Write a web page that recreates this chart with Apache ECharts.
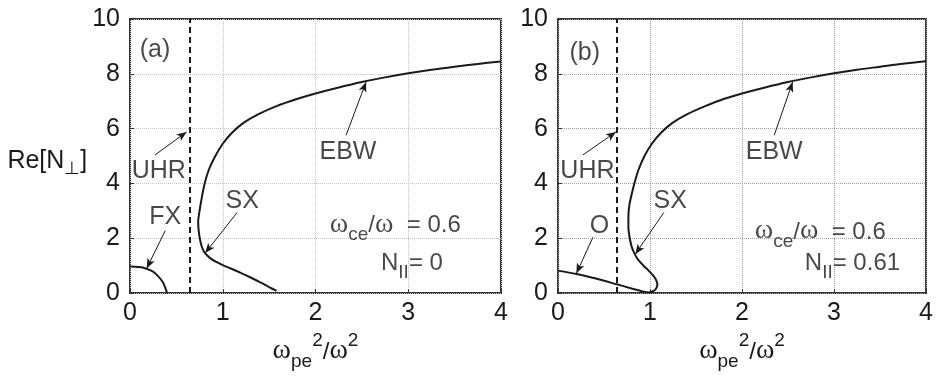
<!DOCTYPE html>
<html>
<head>
<meta charset="utf-8">
<script src="https://cdn.jsdelivr.net/npm/echarts@6/dist/echarts.min.js"></script>
<style>
  html, body { margin: 0; padding: 0; background: #fff; }
  #main { width: 936px; height: 376px; }
</style>
</head>
<body>
<div id="main"></div>
<script>
// x = wpe^2/w^2, y = Re[N_perp]
const fxA = [[0, 0.97], [0.1, 0.95], [0.17, 0.9], [0.24, 0.8], [0.3, 0.63], [0.35, 0.42], [0.38, 0.2], [0.4, 0]];
const sxA = [[1.58, 0.08], [1.5, 0.22], [1.4, 0.4], [1.3, 0.57], [1.2, 0.73], [1.1, 0.88], [1.0, 1.02],
  [0.93, 1.14], [0.87, 1.26], [0.83, 1.38], [0.8, 1.5], [0.775, 1.68], [0.755, 1.95], [0.74, 2.3], [0.735, 2.6],
  [0.75, 3.0], [0.775, 3.5], [0.805, 4.0], [0.85, 4.5], [0.92, 5.0], [1.0, 5.45], [1.1, 5.85],
  [1.22, 6.2], [1.38, 6.52], [1.58, 6.82], [1.8, 7.08], [2.0, 7.28], [2.25, 7.5], [2.5, 7.7],
  [2.75, 7.87], [3.0, 8.02], [3.25, 8.15], [3.5, 8.26], [3.75, 8.36], [4.0, 8.45]];
const oB = [[0, 0.82], [0.2, 0.7], [0.4, 0.54], [0.64, 0.32], [0.8, 0.17], [0.9, 0.08], [0.98, 0.02]];
const sxB = [[0.98, 0.02], [1.02, 0.05], [1.06, 0.14], [1.08, 0.3], [1.07, 0.45], [1.04, 0.62], [0.99, 0.8],
  [0.93, 1.0], [0.87, 1.22], [0.83, 1.45], [0.8, 1.7], [0.78, 2.0], [0.765, 2.4], [0.765, 2.8],
  [0.775, 3.2], [0.8, 3.6], [0.83, 4.0], [0.875, 4.5], [0.94, 5.0], [1.02, 5.45], [1.12, 5.85],
  [1.24, 6.2], [1.4, 6.52], [1.6, 6.82], [1.8, 7.08], [2.0, 7.28], [2.25, 7.5], [2.5, 7.7],
  [2.75, 7.87], [3.0, 8.02], [3.25, 8.15], [3.5, 8.26], [3.75, 8.37], [4.0, 8.46]];
const uhrX = 0.64;

// labels: text, x, y
const labelsA = [['(a)', 0.27, 8.88], ['UHR', 0.31, 4.44], ['FX', 0.38, 2.76], ['SX', 1.21, 3.34], ['EBW', 2.35, 5.16]];
const labelsB = [['(b)', 0.29, 8.76], ['UHR', 0.32, 4.44], ['O', 0.45, 2.46], ['SX', 1.22, 3.36], ['EBW', 2.35, 5.16]];
// arrows: tail -> tip
const arrowsA = [[[0.27, 5.04], [0.61, 5.88]], [[0.38, 2.28], [0.18, 0.9]], [[1.155, 2.94], [0.81, 1.46]], [[2.33, 5.76], [2.545, 7.7]]];
const arrowsB = [[[0.27, 5.04], [0.63, 5.88]], [[0.38, 2.04], [0.2, 0.72]], [[1.15, 2.94], [0.84, 1.42]], [[2.35, 5.76], [2.55, 7.7]]];
const paramA = { wce: '0.6', npar: '0', wPos: [2.86, 2.4], nPos: [3.04, 0.96] };
const paramB = { wce: '0.6', npar: '0.61', wPos: [2.85, 2.16], nPos: [3.2, 0.96] };

const FONT = 'Liberation Sans';
const ink = '#1a1a1a';

const rich = {
  t: { fontFamily: FONT, fontSize: 24, color: ink, verticalAlign: 'bottom', padding: [0, 0, 7, 0] },
  w: { fontFamily: 'Liberation Serif', fontSize: 28, color: ink, verticalAlign: 'bottom', padding: [0, 0, 6, 0] },
  s: { fontFamily: FONT, fontSize: 19, color: ink, verticalAlign: 'bottom' },
  p: { fontFamily: FONT, fontSize: 19, color: ink, verticalAlign: 'bottom', padding: [0, 0, 21, 0] },
  n: { fontFamily: FONT, fontSize: 25, color: ink, verticalAlign: 'bottom', padding: [0, 0, 4, 0] },
  q: { fontFamily: FONT, fontSize: 18, color: ink, verticalAlign: 'bottom' }
};

function axes(i, showName) {
  const grid = { type: 'dotted', color: i === 0 ? '#c4c4c4' : '#a0a0a0' };
  const x = {
    type: 'value', gridIndex: i, min: 0, max: 4, interval: 1,
    name: '{w|ω}{s|pe}{p|2}{t|/}{w|ω}{p|2}', nameLocation: 'middle', nameGap: 34,
    nameTextStyle: { rich: rich },
    axisLine: { show: false },
    axisTick: { show: true, inside: true, length: 4, lineStyle: { color: '#333' } },
    axisLabel: { fontFamily: FONT, fontSize: 25, color: ink, margin: 8 },
    splitLine: { lineStyle: grid }
  };
  const y = {
    type: 'value', gridIndex: i, min: 0, max: 10, interval: 2,
    axisLine: { show: false },
    axisTick: { show: true, inside: true, length: 4, lineStyle: { color: '#333' } },
    axisLabel: { fontFamily: FONT, fontSize: 25, color: ink, margin: 10 },
    splitLine: { lineStyle: grid }
  };
  if (showName) {
    y.name = '{n|Re[N}{q|⊥}{n|]}';
    y.nameLocation = 'middle';
    y.nameRotate = 0;
    y.nameGap = 33;
    y.nameTextStyle = { rich: rich, align: 'right', padding: [14, 0, 0, 0] };
  }
  return [x, y];
}

function curve(i, data) {
  return {
    type: 'line', xAxisIndex: i, yAxisIndex: i, data: data, smooth: 0.3,
    showSymbol: false, silent: true,
    lineStyle: { color: ink, width: 2 }
  };
}

function notes(i, labels, arrows, param) {
  const items = labels.map(l => ({ name: l[0], value: [l[1], l[2]] }));
  items.push({
    name: 'wce', value: param.wPos,
    label: { formatter: '{w|ω}{s|ce}{t|/}{w|ω}{t|  = ' + param.wce + '}', rich: rich }
  });
  items.push({
    name: 'npar', value: param.nPos,
    label: { formatter: '{t|N}{s|II}{t|= ' + param.npar + '}', rich: rich }
  });
  return {
    type: 'scatter', xAxisIndex: i, yAxisIndex: i, symbolSize: 0, silent: true,
    data: items,
    label: {
      show: true, position: 'inside', formatter: p => p.name,
      fontFamily: FONT, fontSize: 25, color: ink
    },
    markLine: {
      silent: true, symbol: ['none', 'arrow'], symbolSize: [6, 10],
      label: { show: false },
      lineStyle: { color: ink, width: 1, type: 'solid' },
      data: arrows.map(a => [{ coord: a[0] }, { coord: a[1] }])
    }
  };
}

function uhr(i) {
  return {
    type: 'line', xAxisIndex: i, yAxisIndex: i, data: [], silent: true,
    markLine: {
      silent: true, symbol: ['none', 'none'],
      label: { show: false },
      lineStyle: { color: ink, width: 2, type: [6, 4] },
      data: [{ xAxis: uhrX }]
    }
  };
}

const ax0 = axes(0, true), ax1 = axes(1, false);
const chart = echarts.init(document.getElementById('main'));
chart.setOption({
  animation: false,
  backgroundColor: '#fff',
  grid: [
    { left: 130, right: 435, top: 19, bottom: 79, show: true, borderColor: '#333', borderWidth: 2 },
    { left: 558, right: 7, top: 19, bottom: 79, show: true, borderColor: '#333', borderWidth: 2 }
  ],
  xAxis: [ax0[0], ax1[0]],
  yAxis: [ax0[1], ax1[1]],
  series: [
    uhr(0), curve(0, fxA), curve(0, sxA), notes(0, labelsA, arrowsA, paramA),
    uhr(1), curve(1, oB), curve(1, sxB), notes(1, labelsB, arrowsB, paramB)
  ]
});
</script>
</body>
</html>
